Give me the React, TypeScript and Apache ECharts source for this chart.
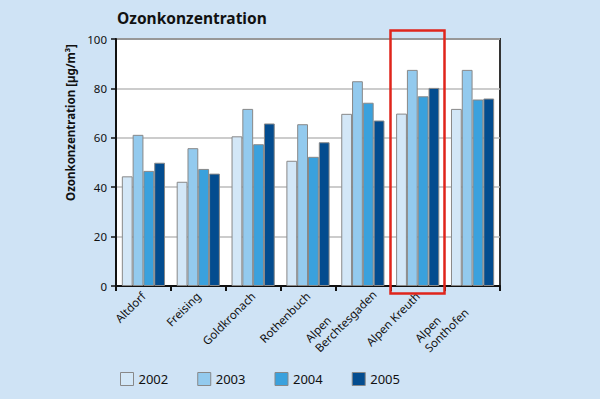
import React, { useEffect, useRef } from "react";
import * as echarts from "echarts";

const categories = ["Altdorf", "Freising", "Goldkronach", "Rothenbuch", "Alpen\nBerchtesgaden", "Alpen Kreuth", "Alpen\nSonthofen"];
const years = ["2002", "2003", "2004", "2005"];
const v2002 = [44.4, 42.2, 60.6, 50.7, 69.7, 69.8, 71.7];
const v2003 = [61.2, 55.8, 71.7, 65.5, 82.9, 87.5, 87.5];
const v2004 = [46.6, 47.4, 57.4, 52.3, 74.2, 76.8, 75.5];
const v2005 = [49.9, 45.5, 65.8, 58.2, 67.0, 80.2, 75.9];
const yTicks = [0, 20, 40, 60, 80, 100];

const colors = ["#d3e7f7", "#93caee", "#3aa1dd", "#034c8f"];
const FONT = "'Noto Sans', 'Open Sans', sans-serif";

export default function App() {
  const ref = useRef<HTMLDivElement>(null);
  useEffect(() => {
    if (!ref.current) return;
    const chart = echarts.init(ref.current, null, { renderer: "svg" });
    const seriesData = [v2002, v2003, v2004, v2005];
    chart.setOption({
      animation: false,
      backgroundColor: "#cfe3f5",
      textStyle: { fontFamily: FONT },
      title: {
        text: "Ozonkonzentration",
        left: 112,
        top: 5,
        textStyle: { fontSize: 15.5, fontWeight: "bold", color: "#111", fontFamily: FONT },
      },
      legend: {
        data: years,
        left: 115,
        top: 367,
        itemWidth: 13,
        itemHeight: 13,
        itemGap: 29,
        icon: "rect",
        textStyle: { fontSize: 13, color: "#111", fontFamily: FONT },
        itemStyle: { borderColor: "#888", borderWidth: 1 },
      },
      grid: {
        left: 116,
        right: 100,
        top: 39,
        bottom: 113,
        show: true,
        backgroundColor: "#ffffff",
        borderColor: "#333",
        borderWidth: 2,
      },
      xAxis: {
        type: "category",
        data: categories,
        axisLine: { lineStyle: { color: "#111", width: 2 } },
        axisTick: { show: true, alignWithLabel: false, length: 5, lineStyle: { color: "#111", width: 2 } },
        axisLabel: {
          rotate: 45,
          fontSize: 11.5,
          color: "#111",
          margin: 8,
          interval: 0,
          fontFamily: FONT,
          formatter: (v: string) => {
            const parts = v.split("\n");
            if (parts.length === 1) return v;
            return parts.map((p) => "{l|" + p + "}").join("\n");
          },
          rich: {
            l: { fontSize: 11.5, width: 72, align: "left", lineHeight: 14, color: "#111", fontFamily: FONT },
          },
        },
      },
      yAxis: {
        type: "value",
        min: 0,
        max: 100,
        interval: 20,
        name: "Ozonkonzentration [µg/m³]",
        nameLocation: "middle",
        nameGap: 38,
        nameTextStyle: { fontSize: 11.5, fontWeight: "bold", color: "#111", fontFamily: FONT, padding: [0, 0, 0, 80] },
        axisLine: { show: true, lineStyle: { color: "#111", width: 2 } },
        axisTick: { show: true, length: 5, lineStyle: { color: "#111", width: 1.5 } },
        axisLabel: {
          fontSize: 11.5,
          color: "#111",
          margin: 9,
          fontFamily: FONT,
          formatter: (v: number) => (yTicks.includes(v) ? String(v) : ""),
        },
        splitLine: { show: true, lineStyle: { color: "#bbbbbb", width: 1.5 } },
      },
      series: years.map((y, i) => ({
        name: y,
        type: "bar",
        data: seriesData[i],
        barWidth: 10.8,
        barGap: "0%",
        itemStyle: { color: colors[i], borderColor: "#888", borderWidth: 1 },
      })),
      graphic: [
        {
          type: "rect",
          shape: { x: 390.5, y: 30.5, width: 54, height: 263 },
          style: { fill: "none", stroke: "#e0251b", lineWidth: 2.5 },
          z: 100,
        },
      ],
    });
    return () => chart.dispose();
  }, []);
  return <div ref={ref} style={{ width: 600, height: 399, position: "absolute", left: 0, top: 0 }} />;
}
